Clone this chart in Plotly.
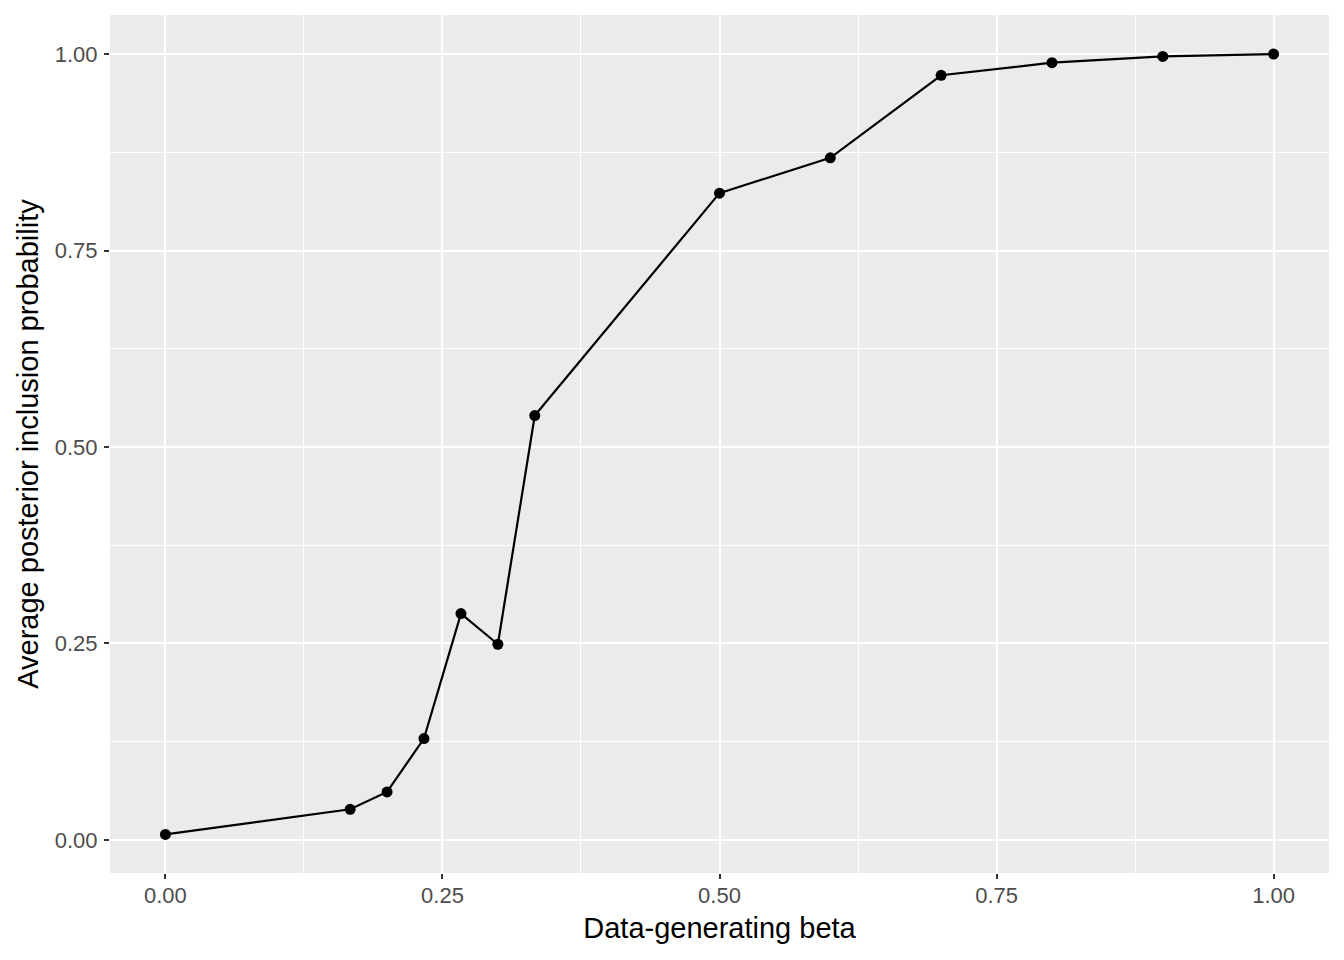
import plotly.graph_objects as go

beta = [0.0, 0.1667, 0.2, 0.2333, 0.2667, 0.3, 0.3333, 0.5, 0.6, 0.7, 0.8, 0.9, 1.0]
pip = [0.007, 0.039, 0.061, 0.129, 0.288, 0.249, 0.540, 0.823, 0.868, 0.973, 0.989, 0.997, 1.0]
tick_vals = [0.0, 0.25, 0.5, 0.75, 1.0]
tick_text = ["0.00", "0.25", "0.50", "0.75", "1.00"]

FONT = "Liberation Sans, Arial, sans-serif"

fig = go.Figure()
fig.add_trace(go.Scatter(x=beta, y=pip, mode="lines+markers",
                         line=dict(color="black", width=2.2),
                         marker=dict(color="black", size=11),
                         showlegend=False))

axis_common = dict(
    showgrid=True, gridcolor="white", gridwidth=2.2,
    minor=dict(showgrid=True, gridcolor="white", gridwidth=1.1, tickmode="array",
               tickvals=[0.125, 0.375, 0.625, 0.875]),
    ticks="outside", ticklen=5, tickwidth=2, tickcolor="#333333",
    tickfont=dict(family=FONT, size=22, color="#4d4d4d"),
    zeroline=False, showline=False,
    tickmode="array", tickvals=tick_vals, ticktext=tick_text,
)

fig.update_xaxes(range=[-0.05, 1.05], ticklabelstandoff=-2,
                 title=dict(text="Data-generating beta", standoff=10,
                            font=dict(family=FONT, size=29, color="black")),
                 **axis_common)
fig.update_yaxes(range=[-0.0421, 1.0497], ticklabelstandoff=2,
                 title=dict(text="Average posterior inclusion probability", standoff=7,
                            font=dict(family=FONT, size=29, color="black")),
                 **axis_common)

fig.update_layout(width=1336, height=952, plot_bgcolor="#ebebeb", paper_bgcolor="white",
                  margin=dict(l=102, r=15, t=7, b=87))

fig.write_html("out.html")
